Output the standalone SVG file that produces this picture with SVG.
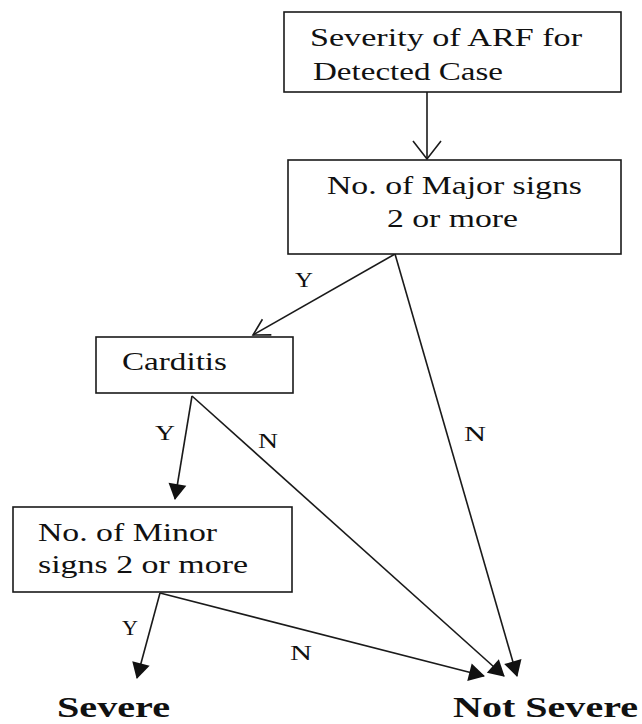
<svg xmlns="http://www.w3.org/2000/svg" width="642" height="724" viewBox="0 0 642 724">
<style>
  .box{fill:#fff;stroke:#1a1a1a;stroke-width:1.6}
  .c{fill:none;stroke:#1a1a1a;stroke-width:1.6}
  text{fill:#111}
</style>
<defs>
  <marker id="open" markerUnits="userSpaceOnUse" markerWidth="24" markerHeight="24" refX="18" refY="12" orient="auto" overflow="visible">
    <path d="M2,3 L18,12 L2,21" fill="none" stroke="#1a1a1a" stroke-width="1.6"/>
  </marker>
  <marker id="openwide" markerUnits="userSpaceOnUse" markerWidth="24" markerHeight="32" refX="18" refY="15" orient="auto" overflow="visible">
    <path d="M0,1 L18,15 L0,29" fill="none" stroke="#1a1a1a" stroke-width="1.6"/>
  </marker>
  <marker id="fill" markerUnits="userSpaceOnUse" markerWidth="18" markerHeight="20" refX="15" refY="9" orient="auto" overflow="visible">
    <path d="M0,0 L16,9 L0,18 z" fill="#111"/>
  </marker>
</defs>

<g font-family="Liberation Serif, Times New Roman, serif">
<g id="connectors" font-size="22">
  <line class="c" x1="427" y1="92" x2="427" y2="159" marker-end="url(#openwide)"/>
  <line class="c" x1="395" y1="254" x2="253" y2="335" marker-end="url(#open)"/>
  <line class="c" x1="395" y1="254" x2="517" y2="676" marker-end="url(#fill)"/>
  <line class="c" x1="192" y1="396" x2="175" y2="499" marker-end="url(#fill)"/>
  <line class="c" x1="192" y1="396" x2="504" y2="676" marker-end="url(#fill)"/>
  <line class="c" x1="160" y1="593" x2="137" y2="678" marker-end="url(#fill)"/>
  <line class="c" x1="160" y1="593" x2="484" y2="676" marker-end="url(#fill)"/>
  <text x="295" y="287" textLength="18" lengthAdjust="spacingAndGlyphs">Y</text>
  <text x="464" y="441" textLength="22" lengthAdjust="spacingAndGlyphs">N</text>
  <text x="155" y="440" textLength="20" lengthAdjust="spacingAndGlyphs">Y</text>
  <text x="258" y="448" textLength="20" lengthAdjust="spacingAndGlyphs">N</text>
  <text x="122" y="635" textLength="16" lengthAdjust="spacingAndGlyphs">Y</text>
  <text x="290" y="660" textLength="22" lengthAdjust="spacingAndGlyphs">N</text>
</g>

<g id="node-severity" font-size="26">
  <rect class="box" x="284" y="12" width="337" height="80"/>
  <text x="310" y="46" textLength="272" lengthAdjust="spacingAndGlyphs">Severity of ARF for</text>
  <text x="313" y="80" textLength="190" lengthAdjust="spacingAndGlyphs">Detected Case</text>
</g>

<g id="node-major" font-size="26">
  <rect class="box" x="288" y="160" width="333" height="94"/>
  <text x="327" y="194" textLength="255" lengthAdjust="spacingAndGlyphs">No. of Major signs</text>
  <text x="387" y="227" textLength="131" lengthAdjust="spacingAndGlyphs">2 or more</text>
</g>

<g id="node-carditis" font-size="26">
  <rect class="box" x="96" y="337" width="197" height="56"/>
  <text x="122" y="370" textLength="105" lengthAdjust="spacingAndGlyphs">Carditis</text>
</g>

<g id="node-minor" font-size="26">
  <rect class="box" x="13" y="507" width="279" height="85"/>
  <text x="38" y="541" textLength="179" lengthAdjust="spacingAndGlyphs">No. of Minor</text>
  <text x="38" y="573" textLength="210" lengthAdjust="spacingAndGlyphs">signs 2 or more</text>
</g>

<g id="node-severe" font-size="29" font-weight="bold">
  <text x="57" y="717" textLength="113" lengthAdjust="spacingAndGlyphs">Severe</text>
</g>

<g id="node-not-severe" font-size="29" font-weight="bold">
  <text x="453" y="717" textLength="185" lengthAdjust="spacingAndGlyphs">Not Severe</text>
</g>
</g>
</svg>
